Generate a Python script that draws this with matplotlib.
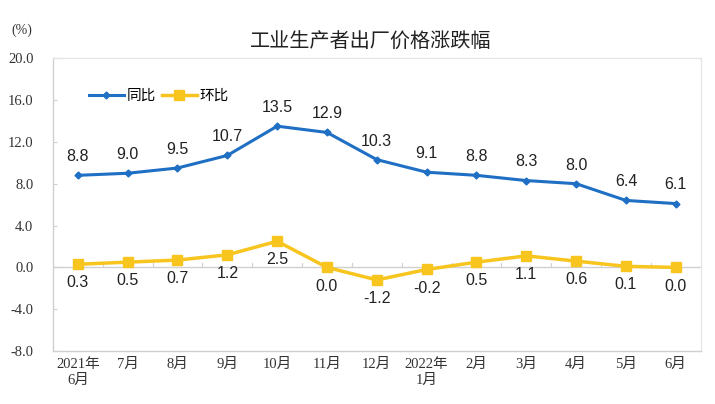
import matplotlib
matplotlib.use('Agg')
import matplotlib.pyplot as plt

# 数据
months = ['2021年\n6月', '7月', '8月', '9月', '10月', '11月', '12月',
          '2022年\n1月', '2月', '3月', '4月', '5月', '6月']
yoy = [8.8, 9.0, 9.5, 10.7, 13.5, 12.9, 10.3, 9.1, 8.8, 8.3, 8.0, 6.4, 6.1]   # 同比
mom = [0.3, 0.5, 0.7, 1.2, 2.5, 0.0, -1.2, -0.2, 0.5, 1.1, 0.6, 0.1, 0.0]     # 环比
yticks = [-8.0, -4.0, 0.0, 4.0, 8.0, 12.0, 16.0, 20.0]

serif = ['Liberation Serif', 'Noto Sans CJK SC']
sans = ['Liberation Sans', 'DejaVu Sans']
cjk = ['Noto Sans CJK SC', 'DejaVu Sans']

blue = '#1f6fc4'
yellow = '#f7c51e'
grey = '#d0d0d0'

fig = plt.figure(figsize=(7.15, 4.04), dpi=100)
ax = fig.add_axes([0.074, 0.131, 0.906, 0.725])

x = list(range(len(months)))
ax.plot(x, yoy, color=blue, linewidth=2.2, marker='D', markersize=3.5, label='同比')
ax.plot(x, mom, color=yellow, linewidth=2.5, marker='s', markersize=7, label='环比')

for i, v in enumerate(yoy):
    ax.annotate('%.1f' % v, (i, v), xytext=(0, 8), textcoords='offset points',
                ha='center', va='bottom', fontsize=11.5, family=sans, color='#222222')
for i, v in enumerate(mom):
    ax.annotate('%.1f' % v, (i, v), xytext=(0, -8), textcoords='offset points',
                ha='center', va='top', fontsize=11.5, family=sans, color='#222222')

# 零线和小刻度
ax.axhline(0, color=grey, linewidth=1, zorder=0)
for b in range(1, len(months)):
    ax.plot([b - 0.5, b - 0.5], [0, 0.45], color=grey, linewidth=0.8, zorder=0)

ax.set_xlim(-0.5, len(months) - 0.5)
ax.set_ylim(-8, 20)
ax.set_yticks(yticks)
ax.set_yticklabels(['%.1f' % t for t in yticks], family=serif, fontsize=10.5, color='#333333')
ax.set_xticks(x)
ax.set_xticklabels(months, family=serif, fontsize=10.5, color='#333333', linespacing=1.25)
ax.tick_params(axis='x', length=0, pad=5)
ax.tick_params(axis='y', length=3, direction='in', color=grey, pad=14)

for s in ax.spines.values():
    s.set_color(grey)
    s.set_linewidth(1)
ax.spines['top'].set_color('#e6e6e6')
ax.spines['right'].set_color('#e6e6e6')

leg = ax.legend(loc='upper left', bbox_to_anchor=(0.035, 0.94), ncol=2, frameon=False,
                prop={'family': cjk, 'size': 10.5}, handlelength=2.4, columnspacing=0.4,
                handletextpad=0.2)

fig.text(0.518, 0.895, '工业生产者出厂价格涨跌幅', ha='center', va='center',
         fontsize=14.5, family=cjk, color='#222222')
fig.text(0.03, 0.925, '(%)', ha='center', va='center', fontsize=10, family=serif, color='#333333')

fig.savefig('out.png', dpi=100)
